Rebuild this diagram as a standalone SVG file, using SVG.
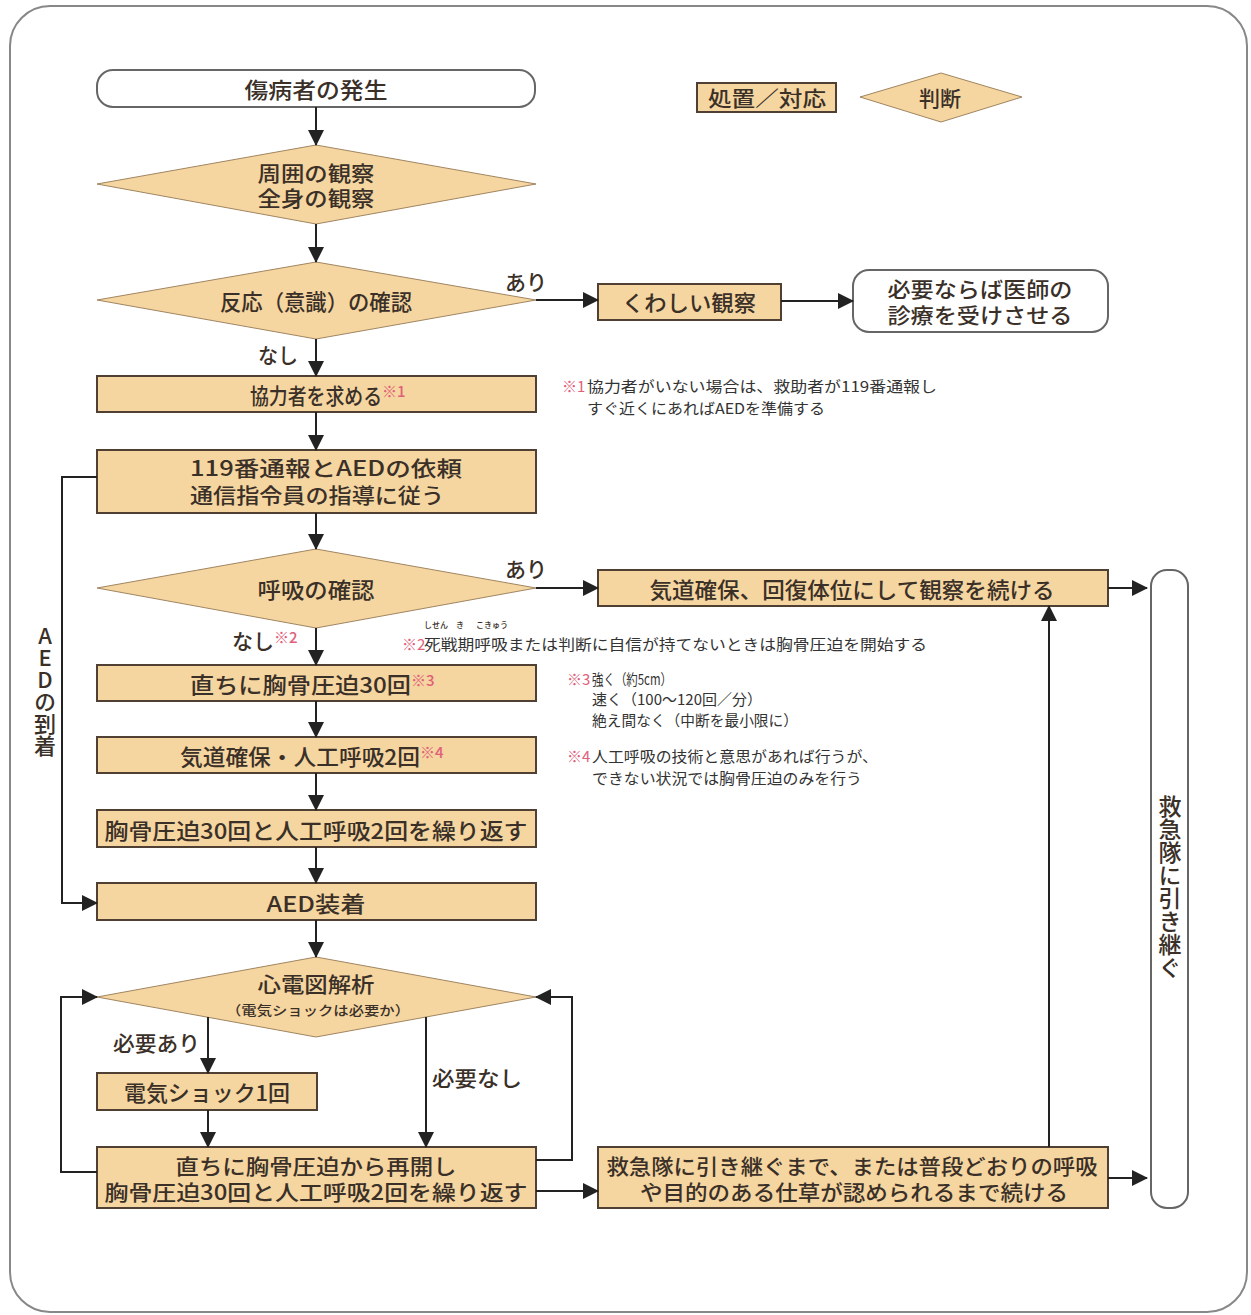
<svg xmlns="http://www.w3.org/2000/svg" width="1251" height="1315" viewBox="0 0 1251 1315">
<defs>
<style>
.t{font-family:"Noto Sans CJK JP","Noto Sans",sans-serif;fill:#3a3028;font-weight:500;}
.m{font-size:22px;text-anchor:middle;dominant-baseline:central;}
.m2{font-size:21px;text-anchor:middle;dominant-baseline:central;}
.lab{font-size:21px;dominant-baseline:central;}
.n{font-size:15px;fill:#333;dominant-baseline:central;font-weight:400;}
.r{fill:#e0607a;}
.box{fill:#f5d5a0;stroke:#4f4033;stroke-width:2;}
.dia{fill:#f5d5a0;stroke:#a08560;stroke-width:1;}
.rnd{fill:#fff;stroke:#666;stroke-width:2;}
.ln{fill:none;stroke:#222;stroke-width:2;}
</style>
<marker id="ah" markerUnits="userSpaceOnUse" markerWidth="16" markerHeight="16" refX="15" refY="8" orient="auto">
<path d="M0,0 L16,8 L0,16 z" fill="#222"/>
</marker>
</defs>
<rect x="0" y="0" width="1251" height="1315" fill="#fff"/>
<rect x="10" y="6" width="1237" height="1306" rx="40" fill="none" stroke="#888" stroke-width="2"/>

<g id="legend">
<rect class="box" x="697" y="83" width="139" height="29"/>
<text class="t lab" x="767" y="97" text-anchor="middle" font-size="20" textLength="118" lengthAdjust="spacingAndGlyphs">処置／対応</text>
<polygon class="dia" points="860,97 941,73 1022,97 941,122"/>
<text class="t lab" x="940" y="97" text-anchor="middle" font-size="20">判断</text>
</g>

<g id="start">
<rect class="rnd" x="97" y="70" width="438" height="37" rx="16"/>
<text class="t m" x="316" y="88" textLength="143" lengthAdjust="spacingAndGlyphs">傷病者の発生</text>
</g>

<g id="observe">
<polygon class="dia" points="97,184 316,145 536,184 316,224"/>
<text class="t m2" x="316" y="172" textLength="117" lengthAdjust="spacingAndGlyphs">周囲の観察</text>
<text class="t m2" x="316" y="197" textLength="117" lengthAdjust="spacingAndGlyphs">全身の観察</text>
</g>

<g id="response">
<polygon class="dia" points="97,300 316,262 536,300 316,339"/>
<text class="t m" x="316" y="300" textLength="192" lengthAdjust="spacingAndGlyphs">反応（意識）の確認</text>
</g>

<g id="detail">
<rect class="box" x="598" y="284" width="183" height="36"/>
<text class="t m" x="689" y="301" textLength="134" lengthAdjust="spacingAndGlyphs">くわしい観察</text>
</g>

<g id="doctor">
<rect class="rnd" x="853" y="270" width="255" height="62" rx="16"/>
<text class="t m2" x="980" y="288" textLength="185" lengthAdjust="spacingAndGlyphs">必要ならば医師の</text>
<text class="t m2" x="980" y="314" textLength="185" lengthAdjust="spacingAndGlyphs">診療を受けさせる</text>
</g>

<g id="helper">
<rect class="box" x="97" y="376" width="439" height="36"/>
<text class="t" x="250" y="394" font-size="22" dominant-baseline="central"><tspan textLength="132" lengthAdjust="spacingAndGlyphs">協力者を求める</tspan><tspan class="r" font-size="15" dy="-4">※1</tspan></text>
</g>

<g id="call119">
<rect class="box" x="97" y="450" width="439" height="63"/>
<text class="t m2" x="326" y="467" textLength="272" lengthAdjust="spacingAndGlyphs">119番通報とAEDの依頼</text>
<text class="t m2" x="317" y="494" textLength="254" lengthAdjust="spacingAndGlyphs">通信指令員の指導に従う</text>
</g>

<g id="breath">
<polygon class="dia" points="97,588 316,549 536,588 316,628"/>
<text class="t m" x="316" y="588" textLength="117" lengthAdjust="spacingAndGlyphs">呼吸の確認</text>
</g>

<g id="recovery">
<rect class="box" x="598" y="570" width="510" height="36"/>
<text class="t m" x="852" y="588" textLength="405" lengthAdjust="spacingAndGlyphs">気道確保、回復体位にして観察を続ける</text>
</g>

<g id="handover">
<rect class="rnd" x="1151" y="570" width="37" height="638" rx="16"/>
<text class="t" x="1170" y="795" font-size="23" style="writing-mode:vertical-rl;text-orientation:upright;">救急隊に引き継ぐ</text>
</g>

<g id="cpr30">
<rect class="box" x="97" y="665" width="439" height="36"/>
<text class="t" x="190" y="683" font-size="22" dominant-baseline="central"><tspan textLength="221" lengthAdjust="spacingAndGlyphs">直ちに胸骨圧迫30回</tspan><tspan class="r" font-size="15" dy="-4">※3</tspan></text>
</g>

<g id="rescue2">
<rect class="box" x="97" y="737" width="439" height="36"/>
<text class="t" x="180" y="755" font-size="22" dominant-baseline="central"><tspan textLength="240" lengthAdjust="spacingAndGlyphs">気道確保・人工呼吸2回</tspan><tspan class="r" font-size="15" dy="-4">※4</tspan></text>
</g>

<g id="repeat">
<rect class="box" x="97" y="810" width="439" height="37"/>
<text class="t m" x="316" y="829" textLength="423" lengthAdjust="spacingAndGlyphs">胸骨圧迫30回と人工呼吸2回を繰り返す</text>
</g>

<g id="aed">
<rect class="box" x="97" y="883" width="439" height="37"/>
<text class="t m" x="316" y="902" textLength="99" lengthAdjust="spacingAndGlyphs">AED装着</text>
</g>

<g id="ecg">
<polygon class="dia" points="97,997 316,957 536,997 316,1037"/>
<text class="t m2" x="316" y="983" textLength="117" lengthAdjust="spacingAndGlyphs">心電図解析</text>
<text class="t" x="318" y="1009" font-size="13" text-anchor="middle" dominant-baseline="central" font-weight="bold" textLength="184" lengthAdjust="spacingAndGlyphs">（電気ショックは必要か）</text>
</g>

<g id="shock">
<rect class="box" x="97" y="1073" width="220" height="37"/>
<text class="t m" x="207" y="1091" textLength="166" lengthAdjust="spacingAndGlyphs">電気ショック1回</text>
</g>

<g id="resume">
<rect class="box" x="97" y="1147" width="439" height="61"/>
<text class="t m2" x="316" y="1165" textLength="281" lengthAdjust="spacingAndGlyphs">直ちに胸骨圧迫から再開し</text>
<text class="t m2" x="316" y="1191" textLength="423" lengthAdjust="spacingAndGlyphs">胸骨圧迫30回と人工呼吸2回を繰り返す</text>
</g>

<g id="continue">
<rect class="box" x="598" y="1147" width="510" height="61"/>
<text class="t m2" x="852" y="1165" textLength="491" lengthAdjust="spacingAndGlyphs">救急隊に引き継ぐまで、または普段どおりの呼吸</text>
<text class="t m2" x="854" y="1191" textLength="428" lengthAdjust="spacingAndGlyphs">や目的のある仕草が認められるまで続ける</text>
</g>

<g id="connectors">
<line class="ln" x1="316" y1="107" x2="316" y2="145" marker-end="url(#ah)"/>
<line class="ln" x1="316" y1="224" x2="316" y2="262" marker-end="url(#ah)"/>
<line class="ln" x1="536" y1="300" x2="598" y2="300" marker-end="url(#ah)"/>
<line class="ln" x1="781" y1="301" x2="853" y2="301" marker-end="url(#ah)"/>
<line class="ln" x1="316" y1="339" x2="316" y2="376" marker-end="url(#ah)"/>
<line class="ln" x1="316" y1="412" x2="316" y2="450" marker-end="url(#ah)"/>
<line class="ln" x1="316" y1="513" x2="316" y2="549" marker-end="url(#ah)"/>
<polyline class="ln" points="97,477 62,477 62,903 97,903" marker-end="url(#ah)"/>
<line class="ln" x1="536" y1="588" x2="598" y2="588" marker-end="url(#ah)"/>
<line class="ln" x1="1108" y1="588" x2="1147" y2="588" marker-end="url(#ah)"/>
<line class="ln" x1="316" y1="628" x2="316" y2="665" marker-end="url(#ah)"/>
<line class="ln" x1="316" y1="701" x2="316" y2="737" marker-end="url(#ah)"/>
<line class="ln" x1="316" y1="773" x2="316" y2="810" marker-end="url(#ah)"/>
<line class="ln" x1="316" y1="847" x2="316" y2="883" marker-end="url(#ah)"/>
<line class="ln" x1="316" y1="920" x2="316" y2="957" marker-end="url(#ah)"/>
<line class="ln" x1="208" y1="1017" x2="208" y2="1073" marker-end="url(#ah)"/>
<line class="ln" x1="208" y1="1110" x2="208" y2="1147" marker-end="url(#ah)"/>
<line class="ln" x1="426" y1="1017" x2="426" y2="1147" marker-end="url(#ah)"/>
<polyline class="ln" points="97,1172 61,1172 61,997 97,997" marker-end="url(#ah)"/>
<polyline class="ln" points="536,1160 572,1160 572,997 536,997" marker-end="url(#ah)"/>
<line class="ln" x1="536" y1="1191" x2="598" y2="1191" marker-end="url(#ah)"/>
<line class="ln" x1="1049" y1="1147" x2="1049" y2="606" marker-end="url(#ah)"/>
<line class="ln" x1="1108" y1="1178" x2="1147" y2="1178" marker-end="url(#ah)"/>
</g>

<g id="labels">
<text class="t lab" x="505" y="281" textLength="42" lengthAdjust="spacingAndGlyphs">あり</text>
<text class="t lab" x="258" y="354" textLength="40" lengthAdjust="spacingAndGlyphs">なし</text>
<text class="t lab" x="505" y="568" textLength="42" lengthAdjust="spacingAndGlyphs">あり</text>
<text class="t lab" x="232" y="640">なし<tspan class="r" font-size="15" dy="-4">※2</tspan></text>
<text class="t lab" x="113" y="1042" textLength="87" lengthAdjust="spacingAndGlyphs">必要あり</text>
<text class="t lab" x="432" y="1077" textLength="90" lengthAdjust="spacingAndGlyphs">必要なし</text>
<text class="t" x="45" y="625" font-size="22" style="writing-mode:vertical-rl;text-orientation:upright;">AEDの到着</text>
</g>

<g id="notes">
<text class="t n r" x="562" y="385" font-size="10">※1</text>
<text class="t n" x="587" y="385" textLength="350" lengthAdjust="spacingAndGlyphs">協力者がいない場合は、救助者が119番通報し</text>
<text class="t n" x="587" y="407" textLength="238" lengthAdjust="spacingAndGlyphs">すぐ近くにあればAEDを準備する</text>
<text class="t" x="424" y="628" font-size="8" fill="#555" font-weight="400">しせん</text>
<text class="t" x="456" y="628" font-size="8" fill="#555" font-weight="400">き</text>
<text class="t" x="476" y="628" font-size="8" fill="#555" font-weight="400">こきゅう</text>
<text class="t n r" x="402" y="643" font-size="10">※2</text>
<text class="t n" x="424" y="643" textLength="503" lengthAdjust="spacingAndGlyphs">死戦期呼吸または判断に自信が持てないときは胸骨圧迫を開始する</text>
<text class="t n r" x="567" y="678" font-size="10">※3</text>
<text class="t n" x="592" y="678" textLength="80" lengthAdjust="spacingAndGlyphs">強く（約5cm）</text>
<text class="t n" x="592" y="698" textLength="170" lengthAdjust="spacingAndGlyphs">速く（100〜120回／分）</text>
<text class="t n" x="592" y="719" textLength="206" lengthAdjust="spacingAndGlyphs">絶え間なく（中断を最小限に）</text>
<text class="t n r" x="567" y="755" font-size="10">※4</text>
<text class="t n" x="592" y="755" textLength="286" lengthAdjust="spacingAndGlyphs">人工呼吸の技術と意思があれば行うが、</text>
<text class="t n" x="592" y="777" textLength="270" lengthAdjust="spacingAndGlyphs">できない状況では胸骨圧迫のみを行う</text>
</g>
</svg>
